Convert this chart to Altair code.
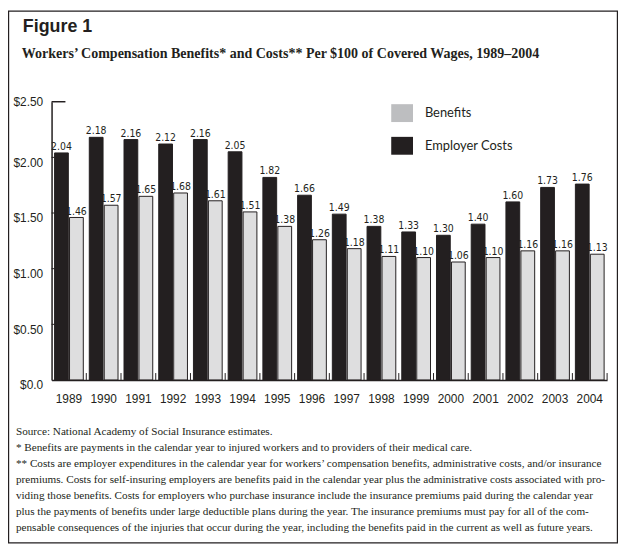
import altair as alt
import pandas as pd

years = ["1989", "1990", "1991", "1992", "1993", "1994", "1995", "1996",
         "1997", "1998", "1999", "2000", "2001", "2002", "2003", "2004"]
costs = [2.04, 2.18, 2.16, 2.12, 2.16, 2.05, 1.82, 1.66,
         1.49, 1.38, 1.33, 1.30, 1.40, 1.60, 1.73, 1.76]
benefits = [1.46, 1.57, 1.65, 1.68, 1.61, 1.51, 1.38, 1.26,
            1.18, 1.11, 1.10, 1.06, 1.10, 1.16, 1.16, 1.13]
series_names = ["Benefits", "Employer Costs"]
y_ticks = [0.5, 1.0, 1.5, 2.0]

title_text = "Figure 1"
subtitle_text = "Workers\u2019 Compensation Benefits* and Costs** Per $100 of Covered Wages, 1989\u20132004"
footnote_lines = [
    "Source: National Academy of Social Insurance estimates.",
    "* Benefits are payments in the calendar year to injured workers and to providers of their medical care.",
    "** Costs are employer expenditures in the calendar year for workers\u2019 compensation benefits, administrative costs, and/or insurance",
    "premiums.  Costs for self-insuring employers are benefits paid in the calendar year plus the administrative costs associated with pro-",
    "viding those benefits.  Costs for employers who purchase insurance include the insurance premiums paid during the calendar year",
    "plus the payments of benefits under large deductible plans during the year.  The insurance premiums must pay for all of the com-",
    "pensable consequences of the injuries that occur during the year, including the benefits paid in the current as well as future years.",
]

rows = []
for yr, c, b in zip(years, costs, benefits):
    rows.append({"year": yr, "series": "Employer Costs", "value": c})
    rows.append({"year": yr, "series": "Benefits", "value": b})
df = pd.DataFrame(rows)

INK = "#231f20"
NARROW = "Liberation Sans Narrow, DejaVu Sans Condensed, Roboto Condensed, Liberation Sans, Arial, sans-serif"
W, H = 561, 281
PAD = {"left": 44, "top": 92, "right": 11, "bottom": 165}

x_enc = alt.X("year:N", sort=years,
              scale=alt.Scale(paddingInner=0, paddingOuter=0),
              axis=alt.Axis(title=None, labelAngle=0, ticks=False, tickSize=0,
                            labelPadding=14, labelFont="Liberation Sans",
                            labelFontSize=12, labelColor=INK,
                            domainColor=INK, domainWidth=1.5))
xoff_enc = alt.XOffset("series:N",
                       scale=alt.Scale(domain=["Employer Costs", "Benefits"],
                                       paddingInner=0.08, paddingOuter=0.2))
y_enc = alt.Y("value:Q",
              scale=alt.Scale(domain=[0, 2.5], nice=False),
              axis=alt.Axis(title=None, values=[0, 0.5, 1.0, 1.5, 2.0, 2.5],
                            labelExpr="datum.value == 0 ? '$0.0' : '$' + format(datum.value, '.2f')",
                            ticks=False, tickSize=0, grid=False, labelPadding=9,
                            labelFont="Liberation Sans", labelFontSize=12,
                            labelColor=INK, domainColor=INK, domainWidth=1.5,
                            labelBaseline={"condition": {"test": "datum.value == 2.5", "value": "middle"},
                                           "value": "top"}))

base = alt.Chart(df)

bars = base.mark_bar(stroke=INK, strokeWidth=1).encode(
    x=x_enc,
    xOffset=xoff_enc,
    y=y_enc,
    color=alt.Color("series:N",
                    scale=alt.Scale(domain=series_names, range=["#bdbec0", INK]),
                    legend=alt.Legend(title=None, orient="none", legendX=343, legendY=0.5,
                                      symbolType="M-1,-0.82H1V0.82H-1Z", symbolSize=484,
                                      symbolStrokeWidth=0, labelOffset=12, rowPadding=12,
                                      padding=0, labelFont="Lato", labelFontSize=13,
                                      labelColor=INK)),
    fillOpacity=alt.condition("datum.series == 'Benefits'", alt.value(0.5), alt.value(1)),
)

labels = base.mark_text(font=NARROW, fontSize=10.5, baseline="alphabetic",
                        dy=-3, color=INK).encode(
    x=alt.X("year:N", sort=years),
    xOffset=alt.XOffset("series:N"),
    y=alt.Y("value:Q"),
    text=alt.Text("value:Q", format=".2f"),
)

years_df = pd.DataFrame({"year": years})
xticks = alt.Chart(years_df).mark_rule(color=INK, strokeWidth=1).encode(
    x=alt.X("year:N", sort=years, bandPosition=1),
    y=alt.value(H),
    y2=alt.value(H - 7),
)

yt_df = pd.DataFrame({"v": y_ticks})
yticks = alt.Chart(yt_df).mark_rule(color=INK, strokeWidth=1).encode(
    y=alt.Y("v:Q"),
    x=alt.value(0),
    x2=alt.value(3),
)
top_df = pd.DataFrame({"v": [2.5]})
ytop = alt.Chart(top_df).mark_rule(color=INK, strokeWidth=1.5).encode(
    y=alt.Y("v:Q"),
    x=alt.value(0),
    x2=alt.value(14),
)

one = pd.DataFrame({"t": [title_text]})
title = alt.Chart(one).mark_text(font="Liberation Sans", fontWeight="bold", fontSize=18,
                                 align="left", baseline="alphabetic", color=INK).encode(
    x=alt.value(15 - PAD["left"]), y=alt.value(22 - PAD["top"]), text="t:N")

sub = alt.Chart(pd.DataFrame({"t": [subtitle_text]})).mark_text(
    font="Liberation Serif", fontWeight="bold", fontSize=14.15,
    align="left", baseline="alphabetic", color=INK).encode(
    x=alt.value(14 - PAD["left"]), y=alt.value(48 - PAD["top"]), text="t:N")

foot = alt.Chart(pd.DataFrame({"t": ["\n".join(footnote_lines)]})).mark_text(
    font="Liberation Serif", fontSize=11.3, align="left", baseline="alphabetic",
    lineBreak="\n", lineHeight=16, color=INK).encode(
    x=alt.value(8 - PAD["left"]), y=alt.value(429 - PAD["top"]), text="t:N")

border = alt.Chart(pd.DataFrame({"a": [0]})).mark_rect(filled=False, stroke=INK, strokeWidth=1.2).encode(
    x=alt.value(0.6 - PAD["left"]),
    x2=alt.value(W + PAD["right"] - 0.6),
    y=alt.value(0.6 - PAD["top"]),
    y2=alt.value(H + PAD["bottom"] - 0.6),
)

chart = alt.layer(bars, labels, xticks, yticks, ytop, title, sub, foot, border).properties(
    width=W, height=H, padding=PAD,
    autosize=alt.AutoSizeParams(type="none"),
).configure_view(stroke=None)

chart.save("out.html", embed_options={"renderer": "svg", "actions": False})
